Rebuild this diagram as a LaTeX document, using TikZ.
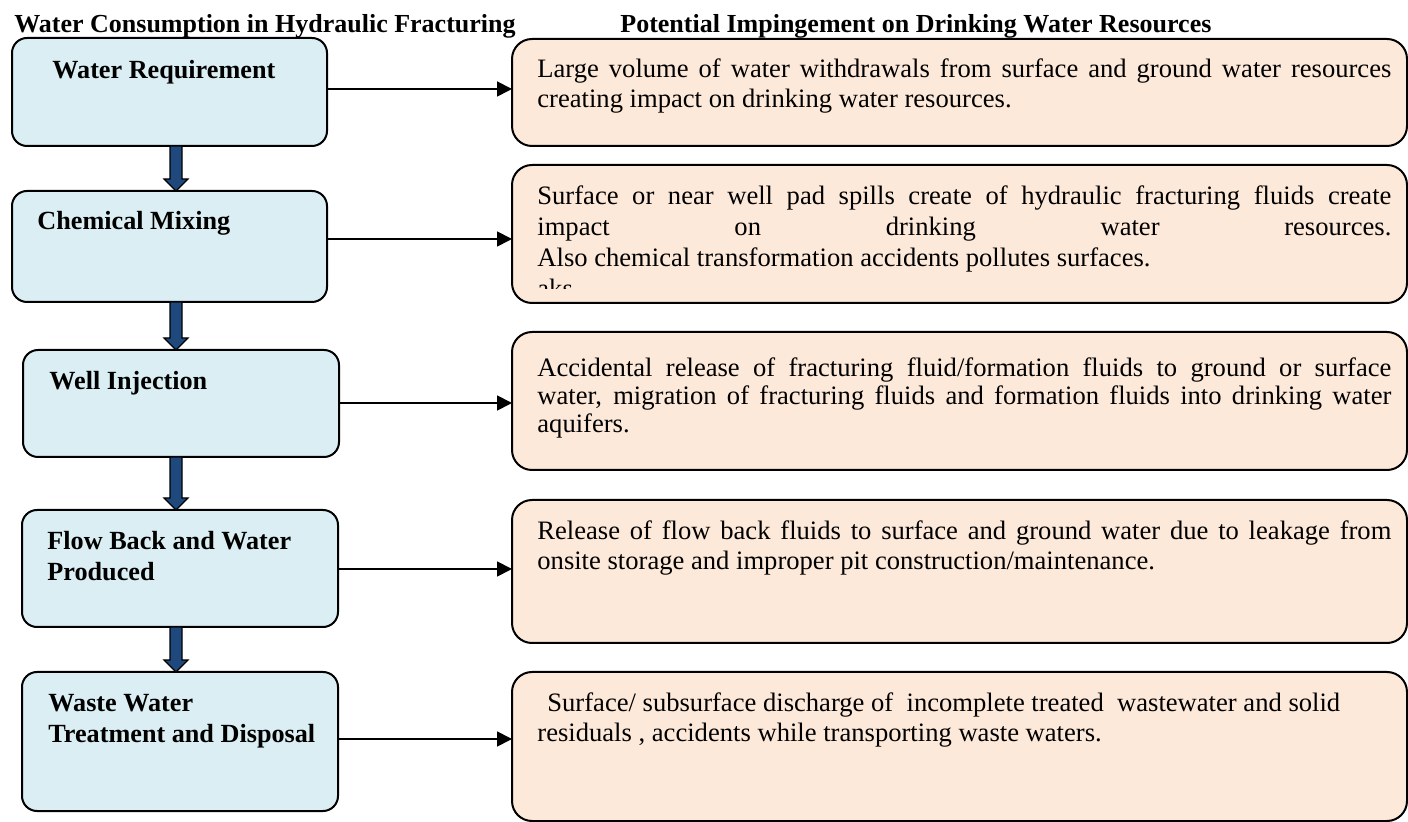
\documentclass[tikz,border=0pt]{standalone}
\usepackage{fontspec}
\setmainfont{Liberation Serif}
\usetikzlibrary{arrows.meta,calc}
\definecolor{lboxc}{HTML}{DAEEF3}
\definecolor{rboxc}{HTML}{FDE9D9}
\definecolor{darrowc}{HTML}{1F497D}
\tikzset{
  lbox/.style={draw=black, line width=1pt, fill=lboxc, rounded corners=7.5pt, inner sep=0pt, outer sep=0pt, anchor=north west},
  rbox/.style={draw=black, line width=1pt, fill=rboxc, rounded corners=10pt, inner sep=0pt, outer sep=0pt, anchor=north west},
  hdr/.style={anchor=base west, inner sep=0pt, font=\fontsize{13}{15.5}\selectfont\bfseries},
  ltxt/.style={anchor=base west, inner sep=0pt, font=\fontsize{13.1}{15.5}\selectfont\bfseries},
  rtxt/.style={anchor=base west, inner sep=0pt, font=\fontsize{13.3}{15}\selectfont},
  harr/.style={draw=black, line width=0.9pt, -{Triangle[length=7.5pt,width=7.5pt]}},
  blockarr/.style={fill=darrowc, draw=black, line width=0.6pt}
}
\newcommand\blockarr[2]{%
  \draw[blockarr] let \p1=(#1.south -| ax), \p2=(#2.north -| ax) in
  (\x1-3pt,\y1) -- (\x1+3pt,\y1) -- (\x1+3pt,\y2+6pt) -- (\x1+6pt,\y2+6pt) --
  (\x1,\y2) -- (\x1-6pt,\y2+6pt) -- (\x1-3pt,\y2+6pt) -- cycle;}
\newcommand\jline[1]{\hbox{\makebox[427pt][s]{#1}}}
\begin{document}
\begin{tikzpicture}[x=0.5pt,y=-0.5pt]
\useasboundingbox (0,0) rectangle (1408,822);
% headers
\node[hdr] (H1) at (14,33) {Water Consumption in Hydraulic Fracturing};
\node[hdr] (H2) at (620,33) {Potential Impingement on Drinking Water Resources};
% left boxes
\node[lbox, minimum width=157.5pt, minimum height=54pt] (L1) at (12,38) {};
\node[lbox, minimum width=157.5pt, minimum height=55.5pt] (L2) at (12,191) {};
\node[lbox, minimum width=158pt, minimum height=53.5pt] (L3) at (23,350) {};
\node[lbox, minimum width=158pt, minimum height=58.5pt] (L4) at (22,510) {};
\node[lbox, minimum width=158pt, minimum height=69.5pt] (L5) at (22,672) {};
% right boxes
\node[rbox, minimum width=447.5pt, minimum height=53.5pt] (R1) at (512,39) {};
\node[rbox, minimum width=447.5pt, minimum height=69pt] (R2) at (512,165) {};
\node[rbox, minimum width=447.5pt, minimum height=69pt] (R3) at (512,332) {};
\node[rbox, minimum width=447.5pt, minimum height=71.5pt] (R4) at (512,500) {};
\node[rbox, minimum width=447.5pt, minimum height=74.5pt] (R5) at (512,672) {};
% left texts
\node[ltxt] (L1t) at (52,79) {Water Requirement};
\node[ltxt] (L2t) at (37,230) {Chemical Mixing};
\node[ltxt] (L3t) at (49,390) {Well Injection};
\node[ltxt] (L4t) at (47,550) {\vtop{\hbox{Flow Back and Water}\hbox{Produced}}};
\node[ltxt] (L5t) at (48,712) {\vtop{\hbox{Waste Water}\hbox{Treatment and Disposal}}};
% right texts
\node[rtxt] (R1t) at (537,78) {\vtop{\jline{Large volume of water withdrawals from surface and ground water resources}\hbox{creating impact on drinking water resources.}}};
\begin{scope}
\clip (512,165) rectangle (1407,289);
\node[rtxt] (R2t) at (537,205) {\vtop{\baselineskip=15.5pt\jline{Surface or near well pad spills create of hydraulic fracturing fluids create}\jline{impact on drinking water resources.}\hbox{Also chemical transformation accidents pollutes surfaces.}\hbox{aks}}};
\end{scope}
\node[rtxt] (R3t) at (537,377) {\vtop{\baselineskip=14pt\jline{Accidental release of fracturing fluid/formation fluids to ground or surface}\jline{water, migration of fracturing fluids and formation fluids into drinking water}\hbox{aquifers.}}};
\node[rtxt] (R4t) at (537,540) {\vtop{\jline{Release of flow back fluids to surface and ground water due to leakage from}\hbox{onsite storage and improper pit construction/maintenance.}}};
\node[rtxt] (R5t) at (537,712) {\vtop{\hbox{\hspace{5pt}Surface/ subsurface discharge of\ \ incomplete treated\ \ wastewater and solid}\hbox{residuals , accidents while transporting waste waters.}}};
% horizontal arrows
\coordinate (a1) at (0,89);
\coordinate (a2) at (0,239);
\coordinate (a3) at (0,403);
\coordinate (a4) at (0,569);
\coordinate (a5) at (0,739);
\draw[harr] (L1.east |- a1) -- (R1.west |- a1);
\draw[harr] (L2.east |- a2) -- (R2.west |- a2);
\draw[harr] (L3.east |- a3) -- (R3.west |- a3);
\draw[harr] (L4.east |- a4) -- (R4.west |- a4);
\draw[harr] (L5.east |- a5) -- (R5.west |- a5);
% block arrows
\coordinate (ax) at (176,0);
\blockarr{L1}{L2}
\blockarr{L2}{L3}
\blockarr{L3}{L4}
\blockarr{L4}{L5}
\end{tikzpicture}
\end{document}
